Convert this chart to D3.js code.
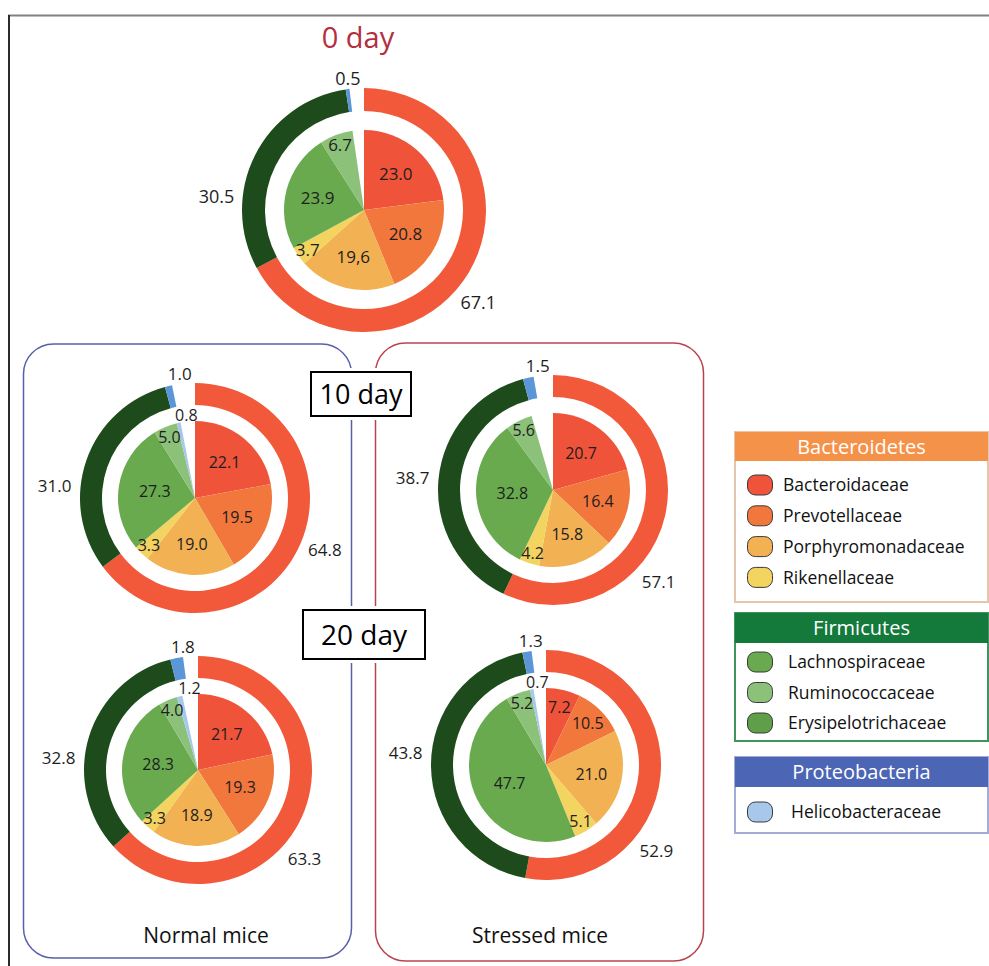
<!DOCTYPE html>
<html>
<head>
<meta charset="utf-8">
<script src="https://cdn.jsdelivr.net/npm/d3@7"></script>
<style>
  html, body { margin: 0; padding: 0; background: #fff; }
  svg { display: block; font-family: "Open Sans", "Noto Sans", sans-serif; }
</style>
</head>
<body>
<svg id="chart" width="989" height="966"></svg>
<script>
// ---- Taxonomy ----
const phyla = ["Bacteroidetes", "Firmicutes", "Proteobacteria"];
const families = ["Bacteroidaceae", "Prevotellaceae", "Porphyromonadaceae", "Rikenellaceae",
                  "Lachnospiraceae", "Ruminococcaceae", "Erysipelotrichaceae", "Helicobacteraceae"];
const familyPhylum = [0, 0, 0, 0, 1, 1, 1, 2];

// ---- Relative abundance (%) : outer ring = phyla, inner pie = families ----
const day0Phyla       = [67.1, 30.5, 0.5];
const day0Families    = [23.0, 20.8, 19.6, 3.7, 23.9, 6.7, null, null];
const normal10Phyla    = [64.8, 31.0, 1.0];
const normal10Families = [22.1, 19.5, 19.0, 3.3, 27.3, 5.0, null, 0.8];
const stress10Phyla    = [57.1, 38.7, 1.5];
const stress10Families = [20.7, 16.4, 15.8, 4.2, 32.8, 5.6, null, null];
const normal20Phyla    = [63.3, 32.8, 1.8];
const normal20Families = [21.7, 19.3, 18.9, 3.3, 28.3, 4.0, null, 1.2];
const stress20Phyla    = [52.9, 43.8, 1.3];
const stress20Families = [7.2, 10.5, 21.0, 5.1, 47.7, 5.2, null, 0.7];

// labels written with a decimal comma
const commaLabels = [["0 day", "Porphyromonadaceae"]];

// ---- Colours ----
const phylumColor = d3.scaleOrdinal().domain(phyla).range(["#f1593a", "#1e4b1c", "#5b97d6"]);
const familyColor = d3.scaleOrdinal().domain(families)
  .range(["#ef533a", "#f1773d", "#f2b152", "#f3d460", "#69aa4f", "#8cc17a", "#5f9f49", "#a7c8ea"]);

// ---- Chart placement ----
const charts = [
  { id: "0 day",        phy: day0Phyla,     fam: day0Families,     cx: 364, cy: 210, R: 122, ring: 23, r: 80, angB: 129 },
  { id: "10 day normal", phy: normal10Phyla, fam: normal10Families, cx: 195, cy: 498, R: 115, ring: 22, r: 77, angB: 112 },
  { id: "10 day stress", phy: stress10Phyla, fam: stress10Families, cx: 553, cy: 490, R: 115, ring: 22, r: 77, angB: 131 },
  { id: "20 day normal", phy: normal20Phyla, fam: normal20Families, cx: 198, cy: 770, R: 114, ring: 22, r: 76, angB: 130 },
  { id: "20 day stress", phy: stress20Phyla, fam: stress20Families, cx: 546, cy: 765, R: 115, ring: 22, r: 77, angB: 128 }
];

const svg = d3.select("#chart");
const rad = deg => deg * Math.PI / 180;
const polar = (a, r) => [Math.sin(rad(a)) * r, -Math.cos(rad(a)) * r];

// ---- Frame ----
svg.append("line").attr("x1", 8).attr("x2", 989).attr("y1", 15.5).attr("y2", 15.5)
  .attr("stroke", "#808080").attr("stroke-width", 2);
svg.append("line").attr("x1", 9).attr("x2", 9).attr("y1", 15).attr("y2", 966)
  .attr("stroke", "#2b2b2b").attr("stroke-width", 2);

// ---- Group panels ----
svg.append("rect").attr("x", 23.5).attr("y", 344).attr("width", 328).attr("height", 614)
  .attr("rx", 30).attr("fill", "none").attr("stroke", "#5a60a8").attr("stroke-width", 1.5);
svg.append("rect").attr("x", 375.5).attr("y", 343).attr("width", 328).attr("height", 618)
  .attr("rx", 30).attr("fill", "none").attr("stroke", "#b9434d").attr("stroke-width", 1.5);

svg.append("text").attr("x", 206).attr("y", 943).attr("text-anchor", "middle")
  .attr("font-size", 21).attr("fill", "#111").text("Normal mice");
svg.append("text").attr("x", 540).attr("y", 943).attr("text-anchor", "middle")
  .attr("font-size", 21).attr("fill", "#111").text("Stressed mice");

// ---- Title ----
svg.append("text").attr("x", 358).attr("y", 48).attr("text-anchor", "middle")
  .attr("font-size", 29).attr("fill", "#b3303f").text("0 day");

// ---- Time-point boxes ----
const dayBoxes = [
  { label: "10 day", x: 311, y: 372, w: 100, h: 44, fs: 27 },
  { label: "20 day", x: 303, y: 610, w: 122, h: 49, fs: 28 }
];
dayBoxes.forEach(b => {
  svg.append("rect").attr("x", b.x - 4).attr("y", b.y - 4).attr("width", b.w + 8).attr("height", b.h + 8)
    .attr("fill", "#fff");
  svg.append("rect").attr("x", b.x).attr("y", b.y).attr("width", b.w).attr("height", b.h)
    .attr("fill", "#fff").attr("stroke", "#000").attr("stroke-width", 2);
  svg.append("text").attr("x", b.x + b.w / 2).attr("y", b.y + b.h / 2)
    .attr("dy", "0.36em").attr("text-anchor", "middle").attr("font-size", b.fs)
    .attr("fill", "#000").text(b.label);
});

// ---- Donuts ----
const fmt = d3.format(".1f");
charts.forEach(c => {
  const g = svg.append("g").attr("transform", `translate(${c.cx},${c.cy})`);

  // outer ring: phyla, the remainder up to 100 % is left blank
  const phyData = phyla.map((p, i) => ({ name: p, value: c.phy[i] }));
  const phyTotal = d3.sum(c.phy);
  const ringPie = d3.pie().sort(null).value(d => d.value)
    .startAngle(0).endAngle(2 * Math.PI * phyTotal / 100);
  const ringArc = d3.arc().innerRadius(c.R - c.ring).outerRadius(c.R);
  g.selectAll("path.ring").data(ringPie(phyData)).join("path")
    .attr("class", "ring").attr("d", ringArc)
    .attr("fill", d => phylumColor(d.data.name));

  // inner pie: families
  const famData = families.map((f, i) => ({ name: f, value: c.fam[i] }))
    .filter(d => d.value != null);
  const famTotal = d3.sum(famData, d => d.value);
  const innerPie = d3.pie().sort(null).value(d => d.value)
    .startAngle(0).endAngle(2 * Math.PI * famTotal / 100);
  const pieArc = d3.arc().innerRadius(0).outerRadius(c.r);
  const slices = innerPie(famData);
  g.selectAll("path.slice").data(slices).join("path")
    .attr("class", "slice").attr("d", pieArc)
    .attr("fill", d => familyColor(d.data.name));

  // slice labels
  slices.forEach(s => {
    const v = s.data.value;
    const mid = (s.startAngle + s.endAngle) / 2 * 180 / Math.PI;
    let pos;
    if (s.data.name === "Helicobacteraceae") {
      pos = polar(354, c.r + 6);
    } else {
      const k = v >= 25 ? 0.53 : v >= 12 ? 0.6 : v >= 7 ? 0.77 : 0.86;
      pos = polar(mid, c.r * k);
    }
    let txt = fmt(v);
    if (commaLabels.some(([id, n]) => id === c.id && n === s.data.name)) txt = txt.replace(".", ",");
    g.append("text").attr("x", pos[0]).attr("y", pos[1]).attr("dy", "0.35em")
      .attr("text-anchor", "middle").attr("font-size", c.R > 118 ? 17 : 16)
      .attr("fill", "#1e1e1e").text(txt);
  });

  // phylum labels around the ring
  const phyLabelPos = [
    polar(c.angB, c.R + 25),
    polar(275, c.R + 26),
    polar(353, c.R + 10)
  ];
  phyData.forEach((d, i) => {
    g.append("text").attr("x", phyLabelPos[i][0]).attr("y", phyLabelPos[i][1]).attr("dy", "0.35em")
      .attr("text-anchor", "middle").attr("font-size", c.R > 118 ? 18 : 17)
      .attr("fill", "#1e1e1e").text(fmt(d.value));
  });
});

// ---- Legend ----
const legendBoxes = [
  { phylum: 0, y: 432, h: 170, head: 29, fill: "#f5924a", border: "#e5c6ad", gap: 30.8, first: 485, tx: 783 },
  { phylum: 1, y: 613, h: 128, head: 30, fill: "#137a3b", border: "#3f9460", gap: 30.5, first: 662, tx: 788 },
  { phylum: 2, y: 757, h: 76,  head: 30, fill: "#4d65b5", border: "#a3abd8", gap: 30, first: 812, tx: 791 }
];
const lx = 735, lw = 253;
legendBoxes.forEach(b => {
  svg.append("rect").attr("x", lx).attr("y", b.y).attr("width", lw).attr("height", b.h)
    .attr("fill", "#fff").attr("stroke", b.border).attr("stroke-width", 2);
  svg.append("rect").attr("x", lx).attr("y", b.y).attr("width", lw).attr("height", b.head)
    .attr("fill", b.fill);
  svg.append("text").attr("x", lx + lw / 2).attr("y", b.y + b.head / 2).attr("dy", "0.36em")
    .attr("text-anchor", "middle").attr("font-size", 20).attr("fill", "#fff")
    .text(phyla[b.phylum]);
  const members = families.filter((f, i) => familyPhylum[i] === b.phylum);
  members.forEach((f, j) => {
    const y = b.first + j * b.gap;
    svg.append("rect").attr("x", 747.5).attr("y", y - 10).attr("width", 25).attr("height", 20)
      .attr("rx", 8).attr("fill", familyColor(f)).attr("stroke", "#3a3a3a").attr("stroke-width", 1);
    svg.append("text").attr("x", b.tx).attr("y", y).attr("dy", "0.35em")
      .attr("font-size", 17.5).attr("fill", "#111").text(f);
  });
});
</script>
</body>
</html>
